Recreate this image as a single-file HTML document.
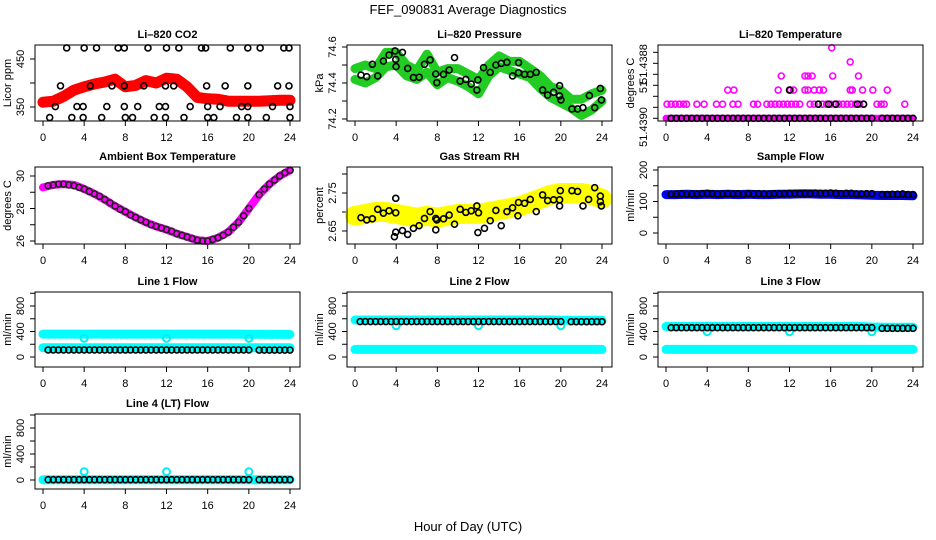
<!DOCTYPE html>
<html><head><meta charset="utf-8"><style>
html,body{margin:0;padding:0;background:#fff;}
svg{display:block;font-family:"Liberation Sans",Arial,sans-serif;}
</style></head><body>
<svg id="chart" width="936" height="540" viewBox="0 0 936 540">
<text x="468" y="14" text-anchor="middle" font-size="13">FEF_090831  Average Diagnostics</text>
<text x="468" y="531" text-anchor="middle" font-size="13">Hour of Day (UTC)</text>
</svg>
<script>
// ---- data ----
const hours = [0,1,2,3,4,5,6,7,8,9,10,11,12,13,14,15,16,17,18,19,20,21,22,23,24];
const halfHours = [0.5,1,1.5,2,2.5,3,3.5,4,4.5,5,5.5,6,6.5,7,7.5,8,8.5,9,9.5,10,10.5,11,11.5,12,12.5,13,13.5,14,14.5,15,15.5,16,16.5,17,17.5,18,18.5,19,19.5,20,21,21.5,22,22.5,23,23.5,24];
const xTicks = [0,4,8,12,16,20,24];

const co2Red = [360,362,372,385,392,398,402,408,392,395,405,400,410,408,392,370,367,366,362,362,362,362,363,364,364];
const co2BlackH = [2.3,4.0,5.2,7.3,7.9,10.2,12.0,13.2,15.4,15.8,18.2,19.9,21.1,23.4,23.9, 1.7,4.6,6.7,7.9,9.8,11.9,12.7,15.9,17.7,19.9,22.8,23.9, 1.2,3.3,3.9,6.2,7.9,9.2,11.3,11.9,14.3,16.0,17.2,19.3,19.9,22.3,24.0, 0.65,2.8,3.9,5.7,8.0,8.7,10.8,11.9,13.7,16.0,16.6,18.8,19.9,21.7,24.0];
const co2BlackV = [473,473,473,473,473,473,473,473,473,473,473,473,473,473,473, 394,394,394,394,394,394,394,394,394,394,394,394, 351,351,351,351,351,351,351,351,351,351,351,351,351,351,351, 328,328,328,328,328,328,328,328,328,328,328,328,328,328,328];

const presUpper = [74.48,74.5,74.48,74.57,74.57,74.5,74.47,74.56,74.46,74.48,74.48,74.45,74.42,74.5,74.55,74.52,74.52,74.48,74.44,74.38,74.36,74.31,74.31,74.34,74.36];
const presLower = [74.42,74.4,74.43,74.49,74.5,74.44,74.42,74.46,74.39,74.43,74.41,74.38,74.34,74.44,74.49,74.47,74.45,74.43,74.37,74.32,74.29,74.26,74.22,74.25,74.30];
const presBlackH = [0.58,1.14,1.69,2.21,2.76,3.31,3.89,3.96,3.99,4.61,5.12,5.68,6.23,6.75,7.30,7.85,7.95,8.60,9.15,9.67,10.22,10.77,11.29,11.84,11.94,12.49,13.14,13.69,14.21,14.76,15.31,15.89,15.89,16.48,17.03,17.61,18.23,18.72,19.30,19.88,19.88,20.01,21.08,21.63,22.15,22.77,23.29,23.84,23.94];
const presBlackV = [74.444,74.435,74.504,74.439,74.522,74.555,74.578,74.531,74.491,74.570,74.481,74.430,74.432,74.504,74.528,74.450,74.402,74.448,74.472,74.541,74.411,74.420,74.394,74.361,74.417,74.485,74.459,74.500,74.509,74.515,74.439,74.513,74.457,74.448,74.448,74.459,74.361,74.333,74.348,74.385,74.328,74.306,74.256,74.256,74.263,74.330,74.263,74.370,74.306];

const tempMagH = [0.1,0.5,0.9,1.3,1.7,2.0,3.0,3.7,4.9,5.5,6.5,7.0,8.5,8.9,9.8,10.2,10.6,11.0,11.4,11.8,12.2,12.6,13.0,14.0,14.4,14.8,15.2,15.6,16.0,16.4,16.8,17.2,17.6,18.0,18.4,18.8,19.2,20.5,20.9,21.2,23.2, 6.0,6.6,10.9,12.1,12.4,13.5,13.8,14.4,14.9,15.3,17.9,18.1,19.1,20.1,21.5, 11.2,13.5,13.8,14.2,16.2,18.7, 17.9, 16.1];
const tempMagL = [1,1,1,1,1,1,1,1,1,1,1,1,1,1,1,1,1,1,1,1,1,1,1,1,1,1,1,1,1,1,1,1,1,1,1,1,1,1,1,1,1, 2,2,2,2,2,2,2,2,2,2,2,2,2,2,2, 3,3,3,3,3,3, 4, 5];
const tempBaseH = [0,24];
const tempBaseL = [0,0];
const tempBlackH = [12.0,14.8,15.8,16.5,18.6,19.2];
const tempBlackL = [2,1,1,1,1,1];
const tempYTicks = [0,0.78,1.56,2.34,3.12,3.9,4.68];

const ambMag = [29.3,29.45,29.5,29.45,29.2,28.9,28.55,28.15,27.8,27.45,27.15,26.9,26.7,26.45,26.25,26.05,26.0,26.2,26.55,27.15,28.0,28.85,29.5,30.0,30.35];
const ambBlack = [29.4,29.45,29.5,29.5,29.45,29.4,29.3,29.2,29.05,28.9,28.75,28.55,28.35,28.15,27.95,27.8,27.6,27.45,27.3,27.15,27.0,26.9,26.8,26.7,26.6,26.45,26.35,26.25,26.15,26.05,26.0,26.0,26.1,26.2,26.35,26.55,26.85,27.15,27.55,28.0,28.85,29.2,29.5,29.75,30.0,30.2,30.35];

const rhYellow = [2.69,2.695,2.70,2.70,2.695,2.69,2.685,2.69,2.685,2.69,2.695,2.695,2.695,2.70,2.705,2.71,2.715,2.725,2.735,2.745,2.75,2.75,2.75,2.745,2.735];
const rhBlackH = [0.58,1.14,1.69,2.21,2.76,3.31,3.96,3.96,3.83,3.96,4.61,5.12,5.68,6.23,6.75,7.30,7.85,7.95,7.85,8.60,9.15,9.67,10.22,10.77,11.29,11.84,12.0,11.94,12.58,13.14,13.69,14.21,14.76,15.31,15.89,15.83,16.48,17.03,17.61,18.23,18.72,19.30,19.88,19.95,19.88,21.08,21.63,22.15,22.70,23.29,23.84,23.94,23.84];
const rhBlackV = [2.685,2.679,2.682,2.707,2.697,2.703,2.698,2.736,2.635,2.647,2.651,2.641,2.657,2.664,2.683,2.701,2.683,2.679,2.653,2.682,2.692,2.668,2.707,2.699,2.703,2.716,2.698,2.646,2.657,2.677,2.704,2.664,2.701,2.711,2.725,2.690,2.723,2.733,2.701,2.745,2.730,2.732,2.732,2.756,2.716,2.756,2.754,2.716,2.733,2.764,2.742,2.716,2.727];

const sampleBlue = [122,122,123,122,123,122,123,122,123,122,122,123,123,124,124,123,123,122,122,121,120,119,119,119,118];
const sampleBlack = [123,124,125,123,124,124,125,126,125,124,124,125,124,125,123,125,124,125,124,124,125,124,125,126,126,125,126,125,127,126,126,127,126,125,126,126,124,124,125,125,122,122,123,123,124,122,122];

const dipH = [4,12,20];
const l1Upper = [360,360,360,360,360,360,360,360,360,360,360,360,360,360,360,360,360,360,360,360,358,356,355,355,355];
const l1Lower = [146,146,146,146,146,146,146,146,146,146,146,146,146,146,146,146,146,146,146,146,146,146,146,146,146];
const l1Black = [110,110,110,110,110,110,110,110,110,110,110,110,110,110,110,110,110,110,110,110,110,110,110,110,110,110,110,110,110,110,110,110,110,110,110,110,110,110,110,110,108,108,108,108,108,108,108];
const l1Dip = [293,293,293];
const l2Upper = [580,580,580,580,580,580,580,580,580,580,580,580,580,580,580,580,580,580,580,580,575,575,575,575,575];
const l2Lower = [120,120,120,120,120,120,120,120,120,120,120,120,120,120,120,120,120,120,120,120,120,120,120,120,120];
const l2Black = [555,555,555,555,555,555,555,555,555,555,555,555,555,555,555,555,555,555,555,555,555,555,555,555,555,555,555,555,555,555,555,555,555,555,555,555,555,555,555,555,553,553,553,553,553,553,553];
const l2Dip = [490,490,490];
const l3Upper = [478,478,478,478,478,478,478,478,478,478,478,478,478,478,478,478,478,478,478,478,470,468,468,468,468];
const l3Lower = [120,120,120,120,120,120,120,120,120,120,120,120,120,120,120,120,120,120,120,120,120,120,120,120,120];
const l3Black = [460,460,460,460,460,460,460,460,460,460,460,460,460,460,460,460,460,460,460,460,460,460,460,460,460,460,460,460,460,460,460,460,460,460,460,460,460,460,460,460,450,450,450,450,450,450,450];
const l3Dip = [397,397,397];
const l4Cyan = [5,5,5,5,5,5,5,5,5,5,5,5,5,5,5,5,5,5,5,5,5,5,5,5,5];
const l4Black = [5,5,5,5,5,5,5,5,5,5,5,5,5,5,5,5,5,5,5,5,5,5,5,5,5,5,5,5,5,5,5,5,5,5,5,5,5,5,5,5,5,5,5,5,5,5,5];
const l4Dip = [127,127,127];

const flowTicks = [0,200,400,600,800,1000];

// ---- rendering ----
const NS = 'http://www.w3.org/2000/svg';
const svg = document.getElementById('chart');
function mk(tag, attrs, parent){ const e=document.createElementNS(NS,tag); for(const k in attrs) e.setAttribute(k,attrs[k]); (parent||svg).appendChild(e); return e; }
function lin(v0,p0,v1,p1){ return v=> p0+(v-v0)*(p1-p0)/(v1-v0); }

const colL=[35,347,658], rowT=[45,167,292,414], rowB=[121,244,367,489];
function panel(name,title,c,r,ymap,yt,ylab,ytitle){
  const p={left:colL[c],right:colL[c]+265,top:rowT[r],bottom:rowB[r],y:ymap};
  p.x=h=>p.left+8+h*247/24;
  const g=mk('g',{});
  
  
  p.g=g;
  const t=mk('text',{x:(p.left+p.right)/2,y:p.top-7,'text-anchor':'middle','font-size':11,'font-weight':'bold'},g);
  t.textContent=title;
  
  
  const bx=mk('rect',{x:p.left,y:p.top,width:265,height:p.bottom-p.top,fill:'none',stroke:'#000','stroke-width':1},g);
  
  
  p.box=bx;
  xTicks.forEach(h=>{
    const tk=mk('line',{x1:p.x(h),x2:p.x(h),y1:p.bottom,y2:p.bottom+5,stroke:'#000'},g);
    
    
    const tl=mk('text',{x:p.x(h),y:p.bottom+20,'text-anchor':'middle','font-size':11},g);
    tl.textContent=h;
    
    
  });
  yt.forEach(v=>{
    const tk=mk('line',{x1:p.left-5,x2:p.left,y1:ymap(v),y2:ymap(v),stroke:'#000'},g);
    
    
  });
  ylab.forEach(([v,s])=>{
    const yy=typeof v==='number'?ymap(v):v.px;
    const tl=mk('text',{x:0,y:0,'text-anchor':'middle','font-size':11,transform:`translate(${p.left-11},${yy}) rotate(-90)`},g);
    tl.textContent=s;
    
    
  });
  const yl=mk('text',{x:0,y:0,'text-anchor':'middle','font-size':11,transform:`translate(${p.left-24},${(p.top+p.bottom)/2}) rotate(-90)`},g);
  yl.textContent=ytitle;
  
  
  return p;
}
function band(p,xs,vs,color,w,name){
  const pts=xs.map((h,i)=>p.x(h).toFixed(1)+','+p.y(vs[i]).toFixed(1)).join(' ');
  const e=mk('polyline',{points:pts,fill:'none',stroke:color,'stroke-width':w,'stroke-linejoin':'round','stroke-linecap':'round'},p.g);
  
  
}
function pts(p,xs,vs,color,name,r,sw){
  xs.forEach((h,i)=>{
    const e=mk('circle',{cx:p.x(h),cy:p.y(vs[i]),r:r||3,fill:'none',stroke:color,'stroke-width':sw||1.6},p.g);
    
    
  });
}
function front(p){ p.g.appendChild(p.box); }

// CO2
let P=panel('co2','Li\u2013820 CO2',0,0,lin(350,107,450,59),[350,400,450],[[350,'350'],[450,'450']],'Licor ppm');
band(P,hours,co2Red,'#ff0000',11,'co2-series');
pts(P,co2BlackH,co2BlackV,'#000','co2-average-point');
front(P);
// Pressure
P=panel('pressure','Li\u2013820 Pressure',1,0,lin(74.2,119,74.6,47),[74.2,74.3,74.4,74.5,74.6],[[74.2,'74.2'],[74.4,'74.4'],[74.6,'74.6']],'kPa');
band(P,hours,presUpper,'#22cc22',9,'pressure-series-upper');
band(P,hours,presLower,'#22cc22',9,'pressure-series-lower');
pts(P,presBlackH,presBlackV,'#000','pressure-average-point');
front(P);
// Temperature
P=panel('li820-temp','Li\u2013820 Temperature',2,0,lin(0,118.3,1,104.2),tempYTicks,[[{px:127},'51.4390'],[{px:87},'51'],[{px:64},'51.4388']],'degrees C');
band(P,tempBaseH,tempBaseL,'#ff00ff',7,'li820-temp-series-base');
pts(P,tempMagH,tempMagL,'#ff00ff','li820-temp-point');
pts(P,halfHours,halfHours.map(()=>0),'#000','li820-temp-average-point');
pts(P,tempBlackH,tempBlackL,'#000','li820-temp-average-point');
front(P);
// Ambient
P=panel('ambient-temp','Ambient Box Temperature',0,1,lin(26,241,30,176),[26,27,28,29,30],[[26,'26'],[28,'28'],[30,'30']],'degrees C');
band(P,hours,ambMag,'#ff00ff',8,'ambient-temp-series');
pts(P,halfHours,ambBlack,'#222','ambient-temp-average-point');
front(P);
// RH
P=panel('gas-rh','Gas Stream RH',1,1,lin(2.65,231,2.75,193),[2.65,2.70,2.75,2.80],[[2.65,'2.65'],[2.75,'2.75']],'percent');
band(P,hours,rhYellow,'#ffff00',20,'gas-rh-series');
pts(P,rhBlackH,rhBlackV,'#000','gas-rh-average-point');
front(P);
// Sample flow
P=panel('sample-flow','Sample Flow',2,1,lin(0,233,200,170),[0,50,100,150,200],[[0,'0'],[100,'100'],[200,'200']],'ml/min');
band(P,hours,sampleBlue,'#0000ee',9,'sample-flow-series');
pts(P,halfHours,sampleBlack,'#000','sample-flow-average-point');
front(P);
// Line flows
const flowLab=[[0,'0'],[400,'400'],[800,'800']];
P=panel('line1-flow','Line 1 Flow',0,2,lin(0,357,800,306),flowTicks,flowLab,'ml/min');
band(P,hours,l1Upper,'#00ffff',9,'line1-flow-series-a');
band(P,hours,l1Lower,'#00ffff',9,'line1-flow-series-b');
pts(P,dipH,l1Dip,'#00eeee','line1-flow-point',3.5,2);
pts(P,halfHours,l1Black,'#000','line1-flow-average-point');
front(P);
P=panel('line2-flow','Line 2 Flow',1,2,lin(0,357,800,306),flowTicks,flowLab,'ml/min');
band(P,hours,l2Upper,'#00ffff',9,'line2-flow-series-a');
band(P,hours,l2Lower,'#00ffff',9,'line2-flow-series-b');
pts(P,dipH,l2Dip,'#00eeee','line2-flow-point',3.5,2);
pts(P,halfHours,l2Black,'#000','line2-flow-average-point');
front(P);
P=panel('line3-flow','Line 3 Flow',2,2,lin(0,357,800,306),flowTicks,flowLab,'ml/min');
band(P,hours,l3Upper,'#00ffff',9,'line3-flow-series-a');
band(P,hours,l3Lower,'#00ffff',9,'line3-flow-series-b');
pts(P,dipH,l3Dip,'#00eeee','line3-flow-point',3.5,2);
pts(P,halfHours,l3Black,'#000','line3-flow-average-point');
front(P);
P=panel('line4-flow','Line 4 (LT) Flow',0,3,lin(0,480,800,428),flowTicks,flowLab,'ml/min');
band(P,hours,l4Cyan,'#00ffff',9,'line4-flow-series');
pts(P,dipH,l4Dip,'#00eeee','line4-flow-point',3.5,2);
pts(P,halfHours,l4Black,'#000','line4-flow-average-point');
front(P);
</script>
</body></html>
